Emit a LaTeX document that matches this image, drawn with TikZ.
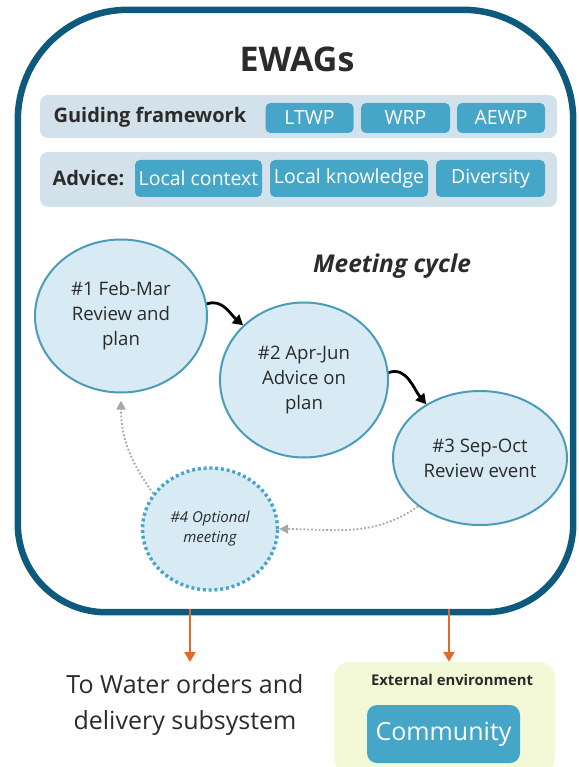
\documentclass[tikz,border=0pt]{standalone}
\usepackage{fontspec}
\setmainfont{Open Sans}
\usetikzlibrary{arrows.meta,shapes.geometric}

\definecolor{frame}{HTML}{0E5A7C}
\definecolor{band}{HTML}{D3E2EA}
\definecolor{chip}{HTML}{45A6C7}
\definecolor{bubble}{HTML}{D8EBF4}
\definecolor{bubbleline}{HTML}{4B9CB8}
\definecolor{ink}{HTML}{2B2B2B}
\definecolor{feed}{HTML}{E2692A}
\definecolor{envfill}{HTML}{F3F8D6}
\definecolor{cyclegrey}{HTML}{A8A8A8}

\newcommand{\fs}[2]{\fontsize{#1}{#2}\selectfont}

\tikzset{
  bandbox/.style={fill=band, rounded corners=8, minimum width=517, inner sep=0},
  chipbox/.style={fill=chip, rounded corners=5, text=white, inner sep=0,
    font=\fs{19.5}{22}},
  bandlabel/.style={anchor=west, text=ink, font=\bfseries\fs{20}{22}},
  meeting/.style={ellipse, draw=bubbleline, fill=bubble, line width=2,
    inner sep=0, align=center, text=ink, font=\fs{18.6}{25}},
  nextstep/.style={line width=2.8, -{Triangle[length=10,width=11]}},
  optstep/.style={cyclegrey, line width=1.8, dotted,
    -{Triangle[length=9,width=9]}},
  feedarrow/.style={feed, line width=2.6, -{Triangle[length=10,width=11]}},
}

\begin{document}
\begin{tikzpicture}[x=1pt, y=-1pt]
\useasboundingbox (0,0) rectangle (578,767);

% EWAGs container: wider rounding on the top corners than on the bottom ones
\node[minimum width=555, minimum height=602, inner sep=0] (ewags) at (295.5,311) {};
\draw[frame, line width=6.5]
  (ewags.west) [rounded corners=110] -- (ewags.north west) -- (ewags.north east)
  -- (ewags.east) [rounded corners=88] -- (ewags.south east)
  -- (ewags.south west) -- (ewags.west);
\node[text=ink, font=\bfseries\fs{34}{36}] (title) at (297,59) {EWAGs};

% guiding framework row
\node[bandbox, minimum height=43] (gband) at (298.5,116.5) {};
\node[bandlabel] (glabel) at (50,117) {Guiding framework};
\node[chipbox, minimum width=88, minimum height=30] (ltwp) at (309.5,118) {LTWP};
\node[chipbox, minimum width=89, minimum height=30] (wrp) at (405.5,118) {WRP};
\node[chipbox, minimum width=88, minimum height=30] (aewp) at (501,118) {AEWP};

% advice row
\node[bandbox, minimum height=55] (aband) at (298.5,179.5) {};
\node[bandlabel] (alabel) at (49,178) {Advice:};
\node[chipbox, minimum width=127, minimum height=37] (ctx) at (198.5,178.5) {Local context};
\node[chipbox, minimum width=158, minimum height=37] (know) at (349,178.5) {Local knowledge};
\node[chipbox, minimum width=109, minimum height=37] (div) at (490.5,178.5) {Diversity};

% meeting cycle
\node[text=ink, font=\bfseries\itshape\fs{24.5}{28}] (cycle) at (392,266) {Meeting cycle};
\node[meeting, minimum width=172, minimum height=153] (m1) at (121,316)
  {\#1 Feb-Mar\\Review and\\plan};
\node[meeting, minimum width=168, minimum height=155] (m2) at (304,380)
  {\#2 Apr-Jun\\Advice on\\plan};
\node[meeting, minimum width=174, minimum height=134] (m3) at (480,458)
  {\#3 Sep-Oct\\Review event};
\node[meeting, draw=chip, line width=3.4, dash pattern=on 3 off 2.8,
  minimum width=135, minimum height=122, font=\itshape\fs{15}{20}] (m4)
  at (210,529) {\#4 Optional\\meeting};

\draw[nextstep] (m1.8) to[out=20, in=140] (m2.138);
\draw[nextstep] (m2.5) to[out=20, in=130] (m3.135);
\draw[optstep] (m3.218) to[out=215, in=0] (m4.0);
\draw[optstep] (m4.148) to[out=125, in=-90] ([yshift=-7]m1.south);

% outputs
\coordinate (water) at (190,662);
\node[text=ink, align=center, font=\fs{25}{36}] (waterlabel) at (185,705)
  {To Water orders and\\delivery subsystem};
\draw[feedarrow] ([yshift=3]ewags.south -| water) -- (water);

\node[fill=envfill, rounded corners=16, minimum width=221, minimum height=112,
  inner sep=0] (env) at (444.5,718) {};
\node[text=ink, font=\bfseries\fs{14.8}{17}] (envlabel) at (452,680) {External environment};
\node[chipbox, rounded corners=10, minimum width=153, minimum height=58,
  font=\fs{25}{28}] (community) at (443.5,734) {Community};
\draw[feedarrow] ([yshift=3]ewags.south -| 449,0) -- (env.north -| 449,0);
\end{tikzpicture}
\end{document}
